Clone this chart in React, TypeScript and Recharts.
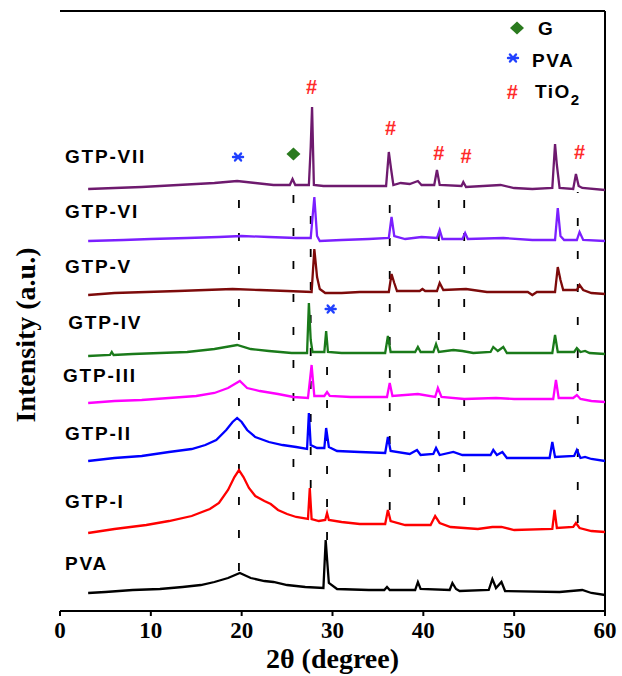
import React from 'react';
import { LineChart, Line, XAxis, YAxis, ReferenceLine, ReferenceDot } from 'recharts';

// 2θ (degree) / intensity (a.u., patterns already stacked)
const PVA: [number, number][] = [
  [3.1, 18], [5, 19], [8, 21], [11, 22], [13.5, 24], [15.5, 26], [17, 29], [18.5, 33], [19.8, 38],
  [21, 33], [22.5, 30], [23.5, 29], [25, 26], [27, 24], [29.0, 23], [29.25, 71], [29.45, 46],
  [29.6, 28], [30.5, 22], [34, 21], [35.7, 21], [36.0, 24], [36.3, 21], [39.1, 21], [39.4, 29],
  [39.7, 22], [42.9, 21], [43.2, 28], [43.6, 22], [44, 20], [47.2, 21], [47.6, 32], [48.0, 23],
  [48.6, 29], [49.0, 20], [55, 19], [57.5, 21], [58.5, 18], [60, 16],
];
const GTP_I: [number, number][] = [
  [3.1, 78], [6, 82], [9.5, 86], [12, 90], [14.5, 95], [16.5, 102], [17.5, 108], [18.5, 121],
  [19.2, 134], [19.7, 141], [20.2, 134], [20.8, 123], [21.5, 115], [22.5, 110], [23.2, 107],
  [24, 101], [25, 97], [26, 94], [27.3, 92], [27.5, 123], [27.7, 92], [28.5, 90], [29.2, 91],
  [29.4, 98], [29.6, 91], [31, 89], [33, 87], [35.8, 87], [36.1, 101], [36.4, 90], [38, 86],
  [40.8, 86], [41.3, 95], [41.8, 88], [43, 84], [46, 82], [47.6, 84], [48.6, 84], [50, 81],
  [54.2, 82], [54.45, 101], [54.7, 83], [56.5, 84], [56.8, 88], [57.2, 83], [58.5, 80], [60, 79],
];
const GTP_II: [number, number][] = [
  [3.1, 150], [6, 153], [9, 155], [12, 159], [14.5, 162], [16, 166], [17.2, 171], [18.3, 181],
  [19.0, 189], [19.5, 193], [20.0, 189], [20.6, 181], [21.5, 174], [23, 169], [24.5, 166],
  [26, 164], [27.2, 162], [27.4, 198], [27.6, 166], [28.3, 163], [29.1, 163], [29.3, 183],
  [29.6, 164], [30.5, 160], [33, 159], [35.8, 158], [36.1, 174], [36.4, 160], [38.5, 157],
  [39.3, 161], [39.7, 156], [41.1, 157], [41.4, 163], [41.8, 156], [43.3, 159], [44.3, 156],
  [47.4, 156], [47.7, 161], [48.1, 156], [48.7, 159], [49.2, 153], [53.9, 153], [54.2, 169],
  [54.5, 154], [56.6, 155], [56.9, 161], [57.3, 153], [57.8, 154], [58.5, 152], [60, 150],
];
const GTP_III: [number, number][] = [
  [3.1, 208], [6, 210], [9, 211], [12, 213], [15, 215], [17, 218], [18.5, 223], [19.8, 230],
  [20.6, 223], [22, 220], [24, 217], [25.7, 214], [27.3, 213], [27.7, 246], [28.0, 215],
  [29.1, 215], [29.4, 219], [29.7, 215], [32, 214], [36.0, 214], [36.3, 228], [36.6, 215],
  [39.4, 217], [41.3, 214], [41.6, 223], [42.0, 214], [44.5, 212], [48, 213], [50, 212],
  [54.3, 212], [54.6, 231], [54.9, 213], [56.5, 213], [56.9, 216], [57.3, 212], [58.5, 210], [60, 209],
];
const GTP_IV: [number, number][] = [
  [3.1, 255], [5.5, 256], [5.7, 259], [5.9, 256], [8, 257], [11, 258], [14, 259], [17, 262],
  [19.5, 266], [21, 262], [23, 260], [25.5, 258], [27.2, 258], [27.4, 308], [27.6, 271],
  [27.8, 259], [29.1, 259], [29.3, 280], [29.5, 259], [31, 258], [35.8, 258], [36.1, 275],
  [36.4, 259], [39.1, 259], [39.4, 264], [39.7, 259], [41.1, 259], [41.4, 267], [41.7, 259],
  [43.3, 261], [44.3, 260], [45.5, 258], [47.4, 259], [47.7, 264], [48.2, 260], [48.8, 264],
  [49.2, 258], [54.2, 258], [54.5, 276], [54.8, 259], [56.6, 259], [56.9, 263], [57.3, 259],
  [57.8, 260], [58.3, 258], [60, 257],
];
const GTP_V: [number, number][] = [
  [3.1, 316], [6, 318], [9.5, 319], [13, 320], [16, 321], [19, 322], [22, 321], [25, 320],
  [27.7, 319], [28.0, 362], [28.3, 334], [28.6, 322], [29.2, 318], [31, 318], [33, 319],
  [36.2, 319], [36.5, 337], [36.8, 328], [37.1, 320], [39.6, 320], [39.9, 322], [40.2, 320],
  [41.5, 320], [41.8, 328], [42.2, 321], [44.7, 322], [47, 319], [51.5, 319], [52, 316],
  [52.5, 319], [54.5, 319], [54.8, 344], [55.1, 331], [55.4, 321], [56.9, 321], [57.2, 326],
  [57.6, 321], [58.5, 318], [60, 317],
];
const GTP_VI: [number, number][] = [
  [3.1, 370], [7, 371], [10, 372], [14, 373], [17.5, 374], [20, 375], [23, 374], [26, 373],
  [27.6, 373], [28.0, 414], [28.3, 375], [28.6, 370], [31, 371], [34, 372], [36.2, 373],
  [36.5, 394], [36.8, 375], [38, 372], [39.8, 374], [41.5, 373], [41.8, 381], [42.1, 372],
  [44.3, 372], [44.6, 378], [44.9, 372], [48.8, 373], [52, 371], [54.5, 371], [54.8, 403],
  [55.1, 375], [55.5, 371], [56.9, 371], [57.2, 379], [57.6, 371], [60, 370],
];
const GTP_VII: [number, number][] = [
  [3.1, 422], [6, 423], [9, 424], [13, 426], [17, 428], [19.5, 430], [21.5, 428], [23.5, 426],
  [25.3, 426], [25.6, 432], [25.9, 426], [27.4, 426], [27.6, 464], [27.75, 504], [27.95, 426],
  [29, 425], [33, 425], [35.9, 425], [36.2, 459], [36.45, 442], [36.7, 426], [37.5, 428],
  [38.5, 427], [39.4, 430], [39.8, 426], [41.2, 426], [41.5, 441], [41.8, 426], [44.2, 425],
  [44.4, 429], [44.7, 424], [48.5, 426], [50, 423], [52, 422], [54.2, 423], [54.5, 467],
  [54.7, 446], [55.0, 423], [56.5, 422], [56.8, 437], [57.1, 425], [57.5, 423], [60, 421],
];

const SERIES = [
  { name: 'PVA', color: '#000000', data: PVA, labelX: 0.55, labelY: 41 },
  { name: 'GTP-I', color: '#ff0000', data: GTP_I, labelX: 0.55, labelY: 103 },
  { name: 'GTP-II', color: '#0000ff', data: GTP_II, labelX: 0.55, labelY: 171 },
  { name: 'GTP-III', color: '#ff00ff', data: GTP_III, labelX: 0.33, labelY: 229 },
  { name: 'GTP-IV', color: '#1a7a1a', data: GTP_IV, labelX: 0.9, labelY: 282 },
  { name: 'GTP-V', color: '#7d0a0a', data: GTP_V, labelX: 0.55, labelY: 338 },
  { name: 'GTP-VI', color: '#7b1fff', data: GTP_VI, labelX: 0.55, labelY: 393 },
  { name: 'GTP-VII', color: '#6e1a6e', data: GTP_VII, labelX: 0.55, labelY: 448 },
];

// guide lines: 2θ, from, to
const GUIDES: [number, number, number][] = [
  [19.7, 40, 418], [25.7, 111, 418], [27.6, 123, 411], [29.4, 71, 256],
  [36.3, 101, 421], [41.7, 106, 411], [44.5, 106, 411], [57.0, 88, 419],
];

// phase markers: type, 2θ, height
const MARKERS: [string, number, number][] = [
  ['pva', 19.6, 454], ['g', 25.7, 457], ['tio2', 27.7, 524], ['tio2', 36.4, 483],
  ['tio2', 41.7, 458], ['tio2', 44.7, 455], ['tio2', 57.2, 459], ['pva', 29.8, 302],
];

const X_TICKS = [0, 10, 20, 30, 40, 50, 60];

const SERIF = '"Liberation Serif", "Times New Roman", serif';
const SANS = '"Liberation Sans", Arial, sans-serif';

const toPts = (arr: [number, number][]) => arr.map(([x, y]) => ({ x, y }));

const Star = ({ cx, cy }: { cx: number; cy: number }) => (
  <g stroke="#2040ff" strokeWidth={2.4} strokeLinecap="round">
    <line x1={cx - 5} y1={cy} x2={cx + 5} y2={cy} />
    <line x1={cx - 3} y1={cy - 3.5} x2={cx + 3} y2={cy + 3.5} />
    <line x1={cx - 3} y1={cy + 3.5} x2={cx + 3} y2={cy - 3.5} />
  </g>
);

const Diamond = ({ cx, cy }: { cx: number; cy: number }) => (
  <polygon
    points={`${cx},${cy - 6.5} ${cx + 7},${cy} ${cx},${cy + 6.5} ${cx - 7},${cy}`}
    fill="#2a7a1e"
  />
);

const Hash = ({ cx, cy }: { cx: number; cy: number }) => (
  <text x={cx} y={cy + 7} textAnchor="middle" fontSize={20} fontWeight="bold" fontFamily={SANS} fill="#ff2a2a">
    #
  </text>
);

const markerShape = (kind: string) => (p: any) => {
  if (kind === 'pva') return <Star cx={p.cx} cy={p.cy} />;
  if (kind === 'g') return <Diamond cx={p.cx} cy={p.cy} />;
  return <Hash cx={p.cx} cy={p.cy} />;
};

const Overlay = () => (
  <svg width={622} height={676} style={{ position: 'absolute', left: 0, top: 0, pointerEvents: 'none' }}>
    <text
      x={25}
      y={335}
      transform="rotate(-90 25 335)"
      textAnchor="middle"
      dominantBaseline="central"
      fontFamily={SERIF}
      fontWeight="bold"
      fontSize={28}
      fill="#000"
    >
      Intensity (a.u.)
    </text>
    <g fontFamily={SANS} fontSize={19} fontWeight="bold" letterSpacing={1.5} fill="#000">
      <Diamond cx={517} cy={28} />
      <text x={538} y={35}>G</text>
      <Star cx={513} cy={58} />
      <text x={532} y={67}>PVA</text>
      <Hash cx={513} cy={92} />
      <text x={535} y={98}>
        TiO<tspan fontSize={15} dy={7}>2</tspan>
      </text>
    </g>
  </svg>
);

export default function App() {
  return (
    <div style={{ position: 'absolute', left: 0, top: 0, width: 622, height: 676, background: '#fff' }}>
      <LineChart width={622} height={676} margin={{ top: 11, right: 17, bottom: 0, left: 60 }}>
        <XAxis
          dataKey="x"
          type="number"
          domain={[0, 60]}
          ticks={X_TICKS}
          height={65}
          tickSize={5}
          tickMargin={6}
          axisLine={{ stroke: '#000', strokeWidth: 2 }}
          tickLine={{ stroke: '#000', strokeWidth: 2 }}
          tick={{ fill: '#000', fontSize: 23, fontWeight: 'bold', fontFamily: SERIF }}
          label={{
            value: '2θ (degree)',
            position: 'insideBottom',
            offset: 8,
            style: { fill: '#000', fontSize: 28, fontWeight: 'bold', fontFamily: SERIF },
          }}
        />
        <YAxis
          type="number"
          domain={[0, 600]}
          width={0}
          tick={false}
          tickLine={false}
          axisLine={{ stroke: '#000', strokeWidth: 2 }}
        />
        <ReferenceLine y={600} stroke="#000" strokeWidth={2} />
        <ReferenceLine x={60} stroke="#000" strokeWidth={2} />
        {GUIDES.map(([x, y1, y2]) => (
          <ReferenceLine
            key={`g-${x}`}
            segment={[{ x, y: y1 }, { x, y: y2 }]}
            stroke="#000"
            strokeWidth={1.8}
            strokeDasharray="8 25"
          />
        ))}
        {SERIES.map((s) => (
          <Line
            key={s.name}
            data={toPts(s.data)}
            dataKey="y"
            name={s.name}
            type="linear"
            stroke={s.color}
            strokeWidth={2.3}
            dot={false}
            isAnimationActive={false}
          />
        ))}
        {SERIES.map((s) => (
          <ReferenceDot
            key={`l-${s.name}`}
            x={s.labelX}
            y={s.labelY}
            r={0}
            shape={(p: any) => (
              <text x={p.cx} y={p.cy} fontFamily={SANS} fontSize={19} fontWeight="bold" letterSpacing={1.8} fill="#000">
                {s.name}
              </text>
            )}
          />
        ))}
        {MARKERS.map(([kind, x, y], i) => (
          <ReferenceDot key={`m-${i}`} x={x} y={y} r={0} shape={markerShape(kind)} />
        ))}
      </LineChart>
      <Overlay />
    </div>
  );
}
